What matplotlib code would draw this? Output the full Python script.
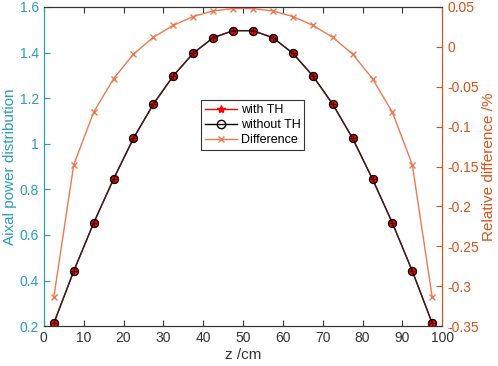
import matplotlib
matplotlib.use("Agg")
import matplotlib.pyplot as plt

z = [2.5, 7.5, 12.5, 17.5, 22.5, 27.5, 32.5, 37.5, 42.5, 47.5,
     52.5, 57.5, 62.5, 67.5, 72.5, 77.5, 82.5, 87.5, 92.5, 97.5]
with_th = [0.212, 0.441, 0.652, 0.845, 1.024, 1.174, 1.298, 1.397, 1.465, 1.496,
           1.496, 1.465, 1.397, 1.298, 1.174, 1.024, 0.845, 0.652, 0.441, 0.212]
without_th = [0.212, 0.441, 0.652, 0.845, 1.024, 1.174, 1.298, 1.397, 1.465, 1.496,
              1.496, 1.465, 1.397, 1.298, 1.174, 1.024, 0.845, 0.652, 0.441, 0.212]
difference = [-0.314, -0.148, -0.082, -0.040, -0.009, 0.012, 0.027, 0.038, 0.045, 0.048,
              0.048, 0.045, 0.038, 0.027, 0.012, -0.009, -0.040, -0.082, -0.148, -0.314]

left_color = "#2a9dbb"
right_color = "#D95319"
diff_color = "#ec7a50"

plt.rcParams['font.family'] = ['Liberation Sans', 'DejaVu Sans']
fig = plt.figure(figsize=(4.98, 3.66), dpi=100)
ax = fig.add_axes([0.088, 0.109, 0.800, 0.872])
ax2 = ax.twinx()

l1, = ax.plot(z, with_th, color="red", marker="o", markersize=5.2, markeredgecolor="red",
              lw=1.0, label="with TH", zorder=3)
ax.plot(z, with_th, color="none", marker="+", markersize=4.5, markeredgecolor="#550000",
        markeredgewidth=0.8, lw=0, zorder=3.5)
l2, = ax.plot(z, without_th, color="#222222", marker="o", markersize=5.8, markerfacecolor="none",
              markeredgecolor="black", markeredgewidth=0.9, lw=1.0, label="without TH", zorder=4)
l3, = ax2.plot(z, difference, color=diff_color, marker="x", markersize=5, lw=1.0, label="Difference")

ax.set_xlim(0, 100)
ax.set_ylim(0.2, 1.6)
ax2.set_ylim(-0.35, 0.05)
ax.set_xticks(range(0, 101, 10))
ax.set_yticks([0.2, 0.4, 0.6, 0.8, 1.0, 1.2, 1.4, 1.6])
ax.set_yticklabels(["0.2", "0.4", "0.6", "0.8", "1", "1.2", "1.4", "1.6"])
ax2.set_yticks([-0.35, -0.3, -0.25, -0.2, -0.15, -0.1, -0.05, 0, 0.05])
ax2.set_yticklabels(["-0.35", "-0.3", "-0.25", "-0.2", "-0.15", "-0.1", "-0.05", "0", "0.05"])

ax.tick_params(axis="x", direction="in", top=True, colors="#333333", labelsize=10, length=4)
ax.tick_params(axis="y", direction="in", colors=left_color, labelsize=10, length=4)
ax2.tick_params(axis="y", direction="in", colors=right_color, labelsize=10, length=4)
for a in (ax, ax2):
    a.spines["left"].set_color(left_color)
    a.spines["right"].set_color(right_color)
    a.spines["top"].set_color("#333333")
    a.spines["bottom"].set_color("#333333")

ax.set_xlabel("z /cm", fontsize=11, color="#333333", labelpad=2)
ax.set_ylabel("Aixal power distribution", fontsize=11, color=left_color, labelpad=2)
ax2.set_ylabel("Relative difference /%", fontsize=11, color=right_color, labelpad=2)

h1 = plt.Line2D([], [], color="red", marker="*", markersize=6, lw=1.0)
h2 = plt.Line2D([], [], color="black", marker="o", markersize=6, markerfacecolor="none", lw=1.0)
h3 = plt.Line2D([], [], color=diff_color, marker="x", markersize=5, lw=1.0)
leg = ax2.legend(handles=[h1, h2, h3], labels=["with TH", "without TH", "Difference"],
                 loc="upper left", bbox_to_anchor=(0.394, 0.708),
                 fontsize=9, frameon=True, fancybox=False, edgecolor="#333333", framealpha=1,
                 handlelength=2.6, borderpad=0.3, labelspacing=0.25, handletextpad=0.3,
                 borderaxespad=0)
leg.get_frame().set_linewidth(0.8)

fig.savefig("out.png", dpi=100)
